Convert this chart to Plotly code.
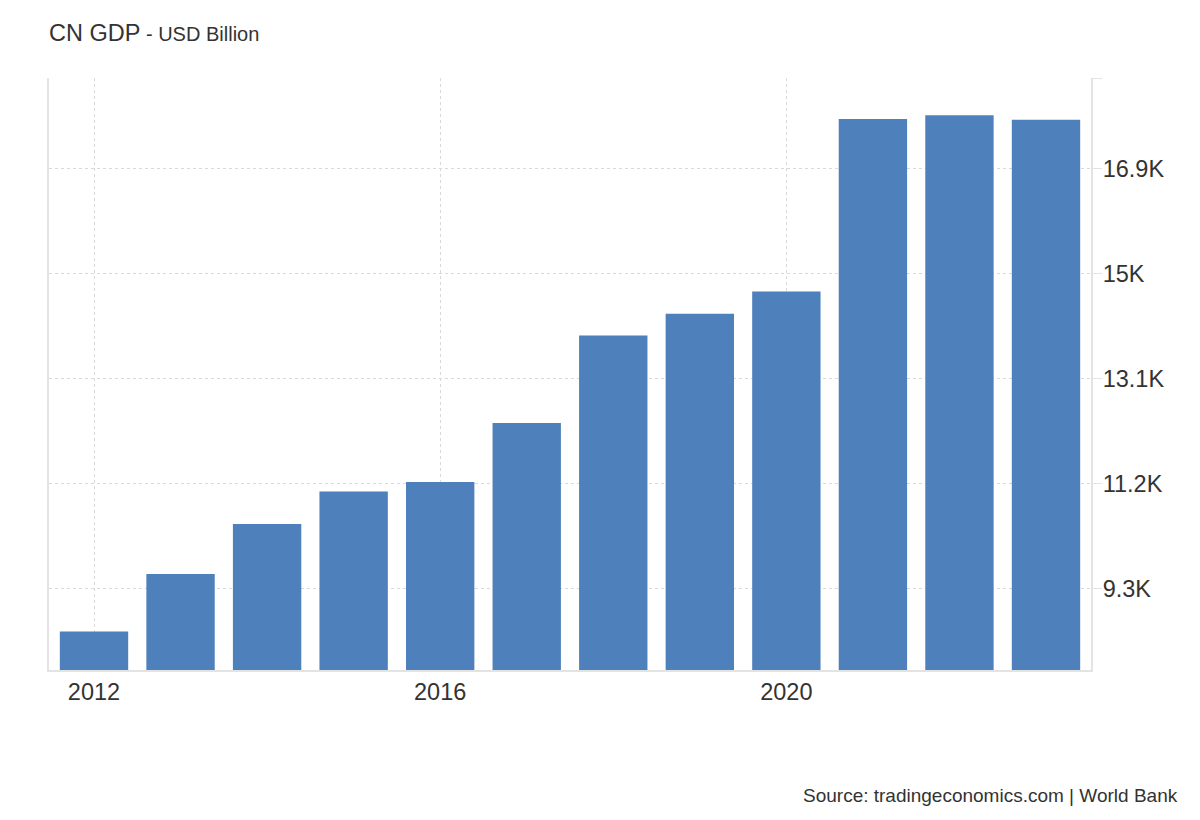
import plotly.graph_objects as go

# China GDP, USD billion
years = [2012, 2013, 2014, 2015, 2016, 2017, 2018, 2019, 2020, 2021, 2022, 2023]
gdp = [8520, 9560, 10465, 11050, 11225, 12290, 13875, 14270, 14670, 17790, 17860, 17780]

y_ticks = [9300, 11200, 13100, 15000, 16900, 18534]
y_labels = ["9.3K", "11.2K", "13.1K", "15K", "16.9K", ""]
x_ticks = [2012, 2016, 2020]

# the page body adds an 8px offset, so the figure is drawn 8px smaller
W, H = 1192, 812

fig = go.Figure()
fig.add_trace(go.Bar(x=years, y=gdp, marker_color="#4e80bb", marker_line_width=0,
                     width=0.79, hoverinfo="x+y"))

fig.update_layout(
    width=W, height=H,
    margin=dict(l=41, r=109, t=70, b=150),
    paper_bgcolor="white", plot_bgcolor="white",
    font=dict(family="Liberation Sans, Arial", color="#333333"),
    showlegend=False,
    title=dict(
        text="CN GDP<span style='font-size:20px'> - USD Billion</span>",
        font=dict(size=23.5, color="#333333"),
        x=41 / W, xanchor="left", xref="container",
        y=1 - 25 / H, yanchor="middle", yref="container",
    ),
)

fig.update_xaxes(
    range=[2011.48, 2023.52],
    tickvals=x_ticks,
    tickfont=dict(size=23.5, color="#333333"),
    showgrid=True, gridcolor="#d9d9d9", griddash="dot", gridwidth=1,
    showline=True, linecolor="#e3e3e3", linewidth=2,
    ticks="", zeroline=False,
)
fig.update_yaxes(
    side="right",
    range=[7822, 18534],
    tickvals=y_ticks, ticktext=y_labels,
    tickfont=dict(size=23.5, color="#333333"),
    showgrid=True, gridcolor="#d9d9d9", griddash="dot", gridwidth=1,
    showline=True, mirror=True, linecolor="#e3e3e3", linewidth=2,
    ticks="outside", ticklen=9, tickcolor="#e3e3e3", tickwidth=1,
    ticklabelstandoff=-4,
    zeroline=False,
)

fig.add_annotation(
    text="Source: tradingeconomics.com | World Bank",
    xref="paper", yref="paper", x=(1180 - 49) / 1042, y=(670 - 796) / 592,
    xanchor="right", yanchor="middle", showarrow=False,
    font=dict(size=19, color="#333333"),
)

fig.write_html("out.html")
